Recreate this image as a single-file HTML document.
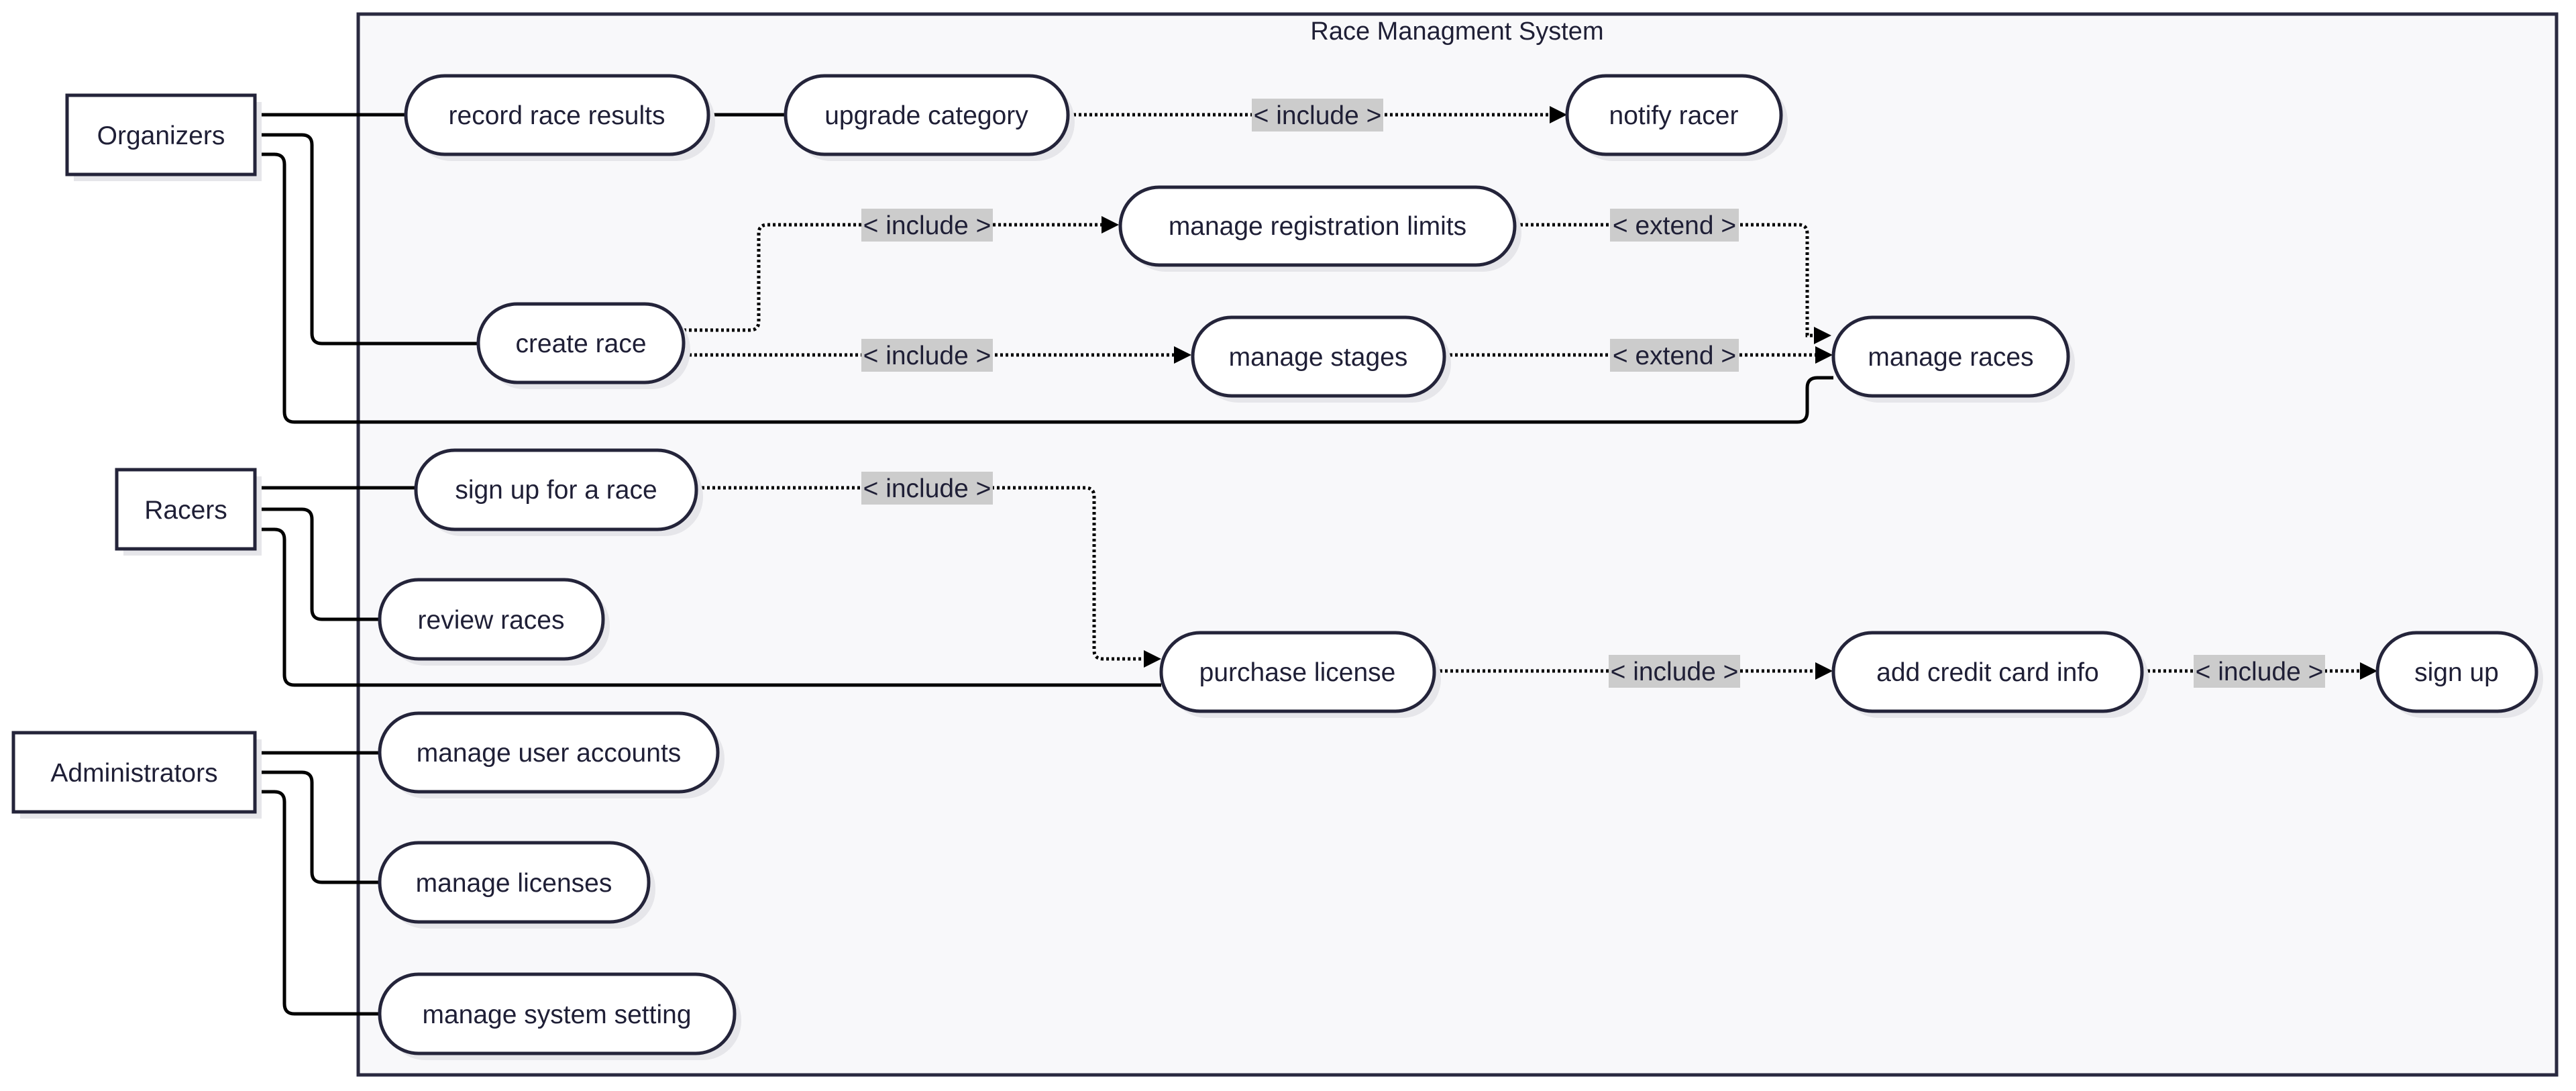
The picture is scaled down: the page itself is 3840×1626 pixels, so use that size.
<!DOCTYPE html>
<html><head><meta charset="utf-8"><style>
html,body{margin:0;padding:0;background:#fff;}
svg{display:block;}
text{font-family:"Liberation Sans",sans-serif;fill:#1f1f36;}
</style></head><body>
<svg width="3840" height="1626" viewBox="0 0 3840 1626" xmlns="http://www.w3.org/2000/svg">
<!-- container -->
<rect x="534" y="21" width="3277" height="1581" fill="#f8f8fa" stroke="#2a2a40" stroke-width="5"/>
<text x="2172" y="59" font-size="38" text-anchor="middle">Race Managment System</text>

<!-- solid connectors -->
<g fill="none" stroke="#000" stroke-width="5">
<path d="M380 171 H605"/>
<path d="M1056 171 H1171"/>
<path d="M380 201 H450 Q465 201 465 216 V497 Q465 512 480 512 H713"/>
<path d="M380 230 H409 Q424 230 424 245 V614 Q424 629 439 629 H2679 Q2694 629 2694 614 V578 Q2694 563 2709 563 H2733"/>
<path d="M380 727 H620"/>
<path d="M380 759 H450 Q465 759 465 774 V908 Q465 923 480 923 H566"/>
<path d="M380 789 H409 Q424 789 424 804 V1006 Q424 1021 439 1021 H1731"/>
<path d="M380 1122 H566"/>
<path d="M380 1151 H450 Q465 1151 465 1166 V1300 Q465 1315 480 1315 H566"/>
<path d="M380 1180 H409 Q424 1180 424 1195 V1496 Q424 1511 439 1511 H566"/>
</g>

<!-- dotted connectors -->
<g fill="none" stroke="#000" stroke-width="5" stroke-dasharray="4 4">
<path d="M1592 171 H2310"/>
<path d="M1019 492 H1118 Q1131 492 1131 479 V348 Q1131 335 1144 335 H1642"/>
<path d="M1019 529 H1750"/>
<path d="M2258 335 H2681 Q2694 335 2694 348 V500 H2706"/>
<path d="M2153 529 H2706"/>
<path d="M1038 727 H1618 Q1631 727 1631 740 V969 Q1631 982 1644 982 H1705"/>
<path d="M2138 1000 H2706"/>
<path d="M3193 1000 H3518"/>
</g>
<!-- arrowheads -->
<g fill="#000">
<polygon points="2310,158 2336,171 2310,184"/>
<polygon points="1642,322 1668,335 1642,348"/>
<polygon points="1750,516 1776,529 1750,542"/>
<polygon points="2704,487 2730,500 2704,513"/>
<polygon points="2706,516 2732,529 2706,542"/>
<polygon points="1705,969 1731,982 1705,995"/>
<polygon points="2706,987 2732,1000 2706,1013"/>
<polygon points="3518,987 3544,1000 3518,1013"/>
</g>

<!-- labels -->
<g font-size="39" text-anchor="middle">
<rect x="1866" y="147" width="196" height="49" fill="#cccccc"/><text x="1964" y="185">&lt; include &gt;</text>
<rect x="1284" y="311" width="196" height="49" fill="#cccccc"/><text x="1382" y="349">&lt; include &gt;</text>
<rect x="1284" y="505" width="196" height="49" fill="#cccccc"/><text x="1382" y="543">&lt; include &gt;</text>
<rect x="2400" y="311" width="192" height="49" fill="#cccccc"/><text x="2496" y="349">&lt; extend &gt;</text>
<rect x="2400" y="505" width="192" height="49" fill="#cccccc"/><text x="2496" y="543">&lt; extend &gt;</text>
<rect x="1284" y="703" width="196" height="49" fill="#cccccc"/><text x="1382" y="741">&lt; include &gt;</text>
<rect x="2398" y="976" width="196" height="49" fill="#cccccc"/><text x="2496" y="1014">&lt; include &gt;</text>
<rect x="3270" y="976" width="196" height="49" fill="#cccccc"/><text x="3368" y="1014">&lt; include &gt;</text>
</g>

<!-- actors -->
<g font-size="39" text-anchor="middle">
<rect x="110" y="152" width="280" height="118" fill="#e6e6ea"/>
<rect x="100" y="142" width="280" height="118" fill="#fff" stroke="#24243a" stroke-width="5"/>
<text x="240" y="215">Organizers</text>
<rect x="184" y="710" width="206" height="118" fill="#e6e6ea"/>
<rect x="174" y="700" width="206" height="118" fill="#fff" stroke="#24243a" stroke-width="5"/>
<text x="277" y="773">Racers</text>
<rect x="30" y="1102" width="360" height="118" fill="#e6e6ea"/>
<rect x="20" y="1092" width="360" height="118" fill="#fff" stroke="#24243a" stroke-width="5"/>
<text x="200" y="1165">Administrators</text>
</g>

<!-- use cases -->
<g font-size="39" text-anchor="middle">
<g><rect x="615" y="123" width="451" height="117" rx="58" fill="#e6e6ea"/><rect x="605" y="113" width="451" height="117" rx="58" fill="#fff" stroke="#24243a" stroke-width="5"/><text x="830" y="185">record race results</text></g>
<g><rect x="1181" y="123" width="421" height="117" rx="58" fill="#e6e6ea"/><rect x="1171" y="113" width="421" height="117" rx="58" fill="#fff" stroke="#24243a" stroke-width="5"/><text x="1381" y="185">upgrade category</text></g>
<g><rect x="2346" y="123" width="319" height="117" rx="58" fill="#e6e6ea"/><rect x="2336" y="113" width="319" height="117" rx="58" fill="#fff" stroke="#24243a" stroke-width="5"/><text x="2495" y="185">notify racer</text></g>
<g><rect x="1680" y="289" width="588" height="116" rx="58" fill="#e6e6ea"/><rect x="1670" y="279" width="588" height="116" rx="58" fill="#fff" stroke="#24243a" stroke-width="5"/><text x="1964" y="350">manage registration limits</text></g>
<g><rect x="723" y="463" width="306" height="117" rx="58" fill="#e6e6ea"/><rect x="713" y="453" width="306" height="117" rx="58" fill="#fff" stroke="#24243a" stroke-width="5"/><text x="866" y="525">create race</text></g>
<g><rect x="1788" y="483" width="375" height="117" rx="58" fill="#e6e6ea"/><rect x="1778" y="473" width="375" height="117" rx="58" fill="#fff" stroke="#24243a" stroke-width="5"/><text x="1965" y="545">manage stages</text></g>
<g><rect x="2743" y="483" width="350" height="117" rx="58" fill="#e6e6ea"/><rect x="2733" y="473" width="350" height="117" rx="58" fill="#fff" stroke="#24243a" stroke-width="5"/><text x="2908" y="545">manage races</text></g>
<g><rect x="630" y="681" width="418" height="118" rx="58" fill="#e6e6ea"/><rect x="620" y="671" width="418" height="118" rx="58" fill="#fff" stroke="#24243a" stroke-width="5"/><text x="829" y="743">sign up for a race</text></g>
<g><rect x="576" y="874" width="333" height="118" rx="58" fill="#e6e6ea"/><rect x="566" y="864" width="333" height="118" rx="58" fill="#fff" stroke="#24243a" stroke-width="5"/><text x="732" y="937">review races</text></g>
<g><rect x="1741" y="953" width="407" height="117" rx="58" fill="#e6e6ea"/><rect x="1731" y="943" width="407" height="117" rx="58" fill="#fff" stroke="#24243a" stroke-width="5"/><text x="1934" y="1015">purchase license</text></g>
<g><rect x="2743" y="953" width="460" height="117" rx="58" fill="#e6e6ea"/><rect x="2733" y="943" width="460" height="117" rx="58" fill="#fff" stroke="#24243a" stroke-width="5"/><text x="2963" y="1015">add credit card info</text></g>
<g><rect x="3554" y="953" width="237" height="117" rx="58" fill="#e6e6ea"/><rect x="3544" y="943" width="237" height="117" rx="58" fill="#fff" stroke="#24243a" stroke-width="5"/><text x="3662" y="1015">sign up</text></g>
<g><rect x="576" y="1073" width="504" height="117" rx="58" fill="#e6e6ea"/><rect x="566" y="1063" width="504" height="117" rx="58" fill="#fff" stroke="#24243a" stroke-width="5"/><text x="818" y="1135">manage user accounts</text></g>
<g><rect x="576" y="1266" width="401" height="118" rx="58" fill="#e6e6ea"/><rect x="566" y="1256" width="401" height="118" rx="58" fill="#fff" stroke="#24243a" stroke-width="5"/><text x="766" y="1329">manage licenses</text></g>
<g><rect x="576" y="1462" width="529" height="118" rx="58" fill="#e6e6ea"/><rect x="566" y="1452" width="529" height="118" rx="58" fill="#fff" stroke="#24243a" stroke-width="5"/><text x="830" y="1525">manage system setting</text></g>
</g>
</svg>
</body></html>
